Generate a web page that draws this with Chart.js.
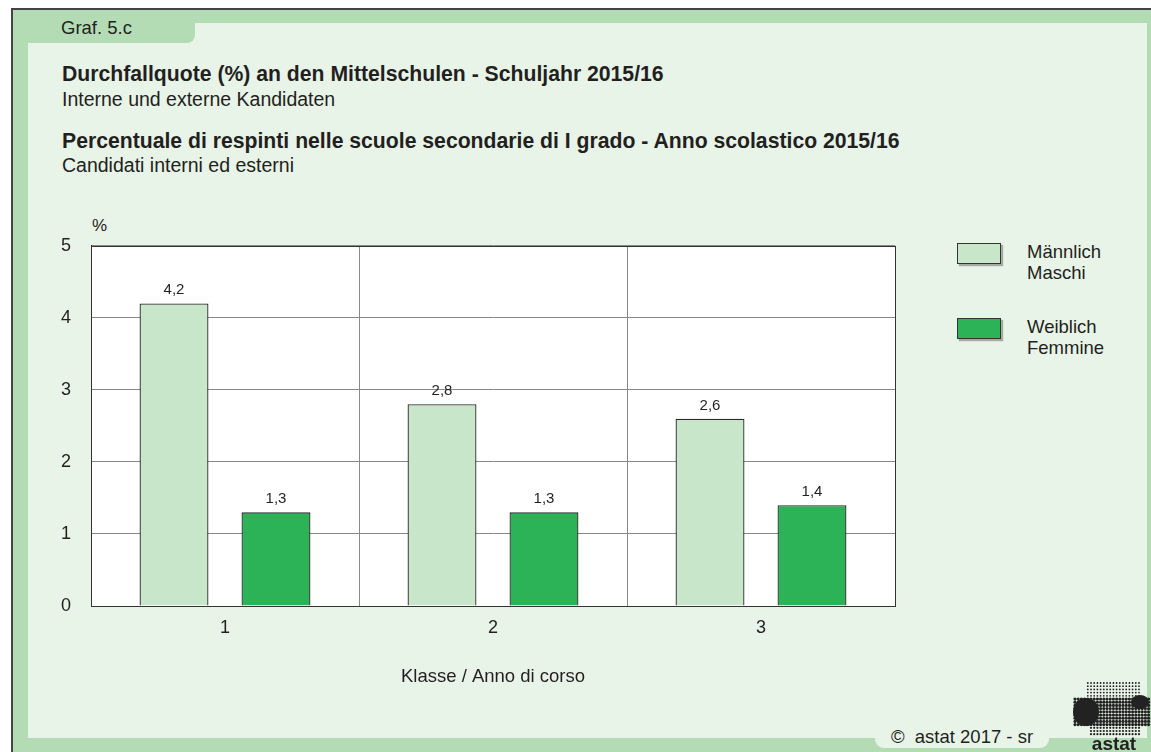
<!DOCTYPE html>
<html>
<head>
<meta charset="utf-8">
<script src="https://cdn.jsdelivr.net/npm/chart.js@4.4.0/dist/chart.umd.min.js"></script>
<style>
body { margin: 0; background: #fff; font-family: "Liberation Sans", Arial, sans-serif; color: #231f20; }
#frame { position: absolute; left: 11px; top: 8px; width: 1140px; height: 744px; background: #b3dcb5; border-top: 2px solid #444; border-left: 2px solid #444; box-sizing: border-box; }
#inner { position: absolute; left: 28px; top: 23px; width: 1119px; height: 715px; background: #e8f4e8; }
#tab { position: absolute; left: 13px; top: 10px; width: 182px; height: 33px; background: #b3dcb5; border-bottom-right-radius: 8px; }
#tab span { position: absolute; left: 48px; top: 7px; font-size: 18.5px; }
.t { position: absolute; left: 62px; font-size: 19.5px; white-space: nowrap; }
.b { font-weight: bold; font-size: 21.2px; }
#wrap { position: absolute; left: 40px; top: 215px; width: 870px; height: 490px; }
#legend { position: absolute; left: 957px; top: 243px; }
.li { position: relative; height: 75px; }
.sw { position: absolute; left: 0; top: 0; width: 42px; height: 19px; border: 1px solid #333; box-shadow: 2px 2px 1px rgba(0,0,0,0.3); }
.lt { position: absolute; left: 70px; top: -2px; font-size: 18.5px; line-height: 21px; }
#copy { position: absolute; left: 875px; top: 725px; width: 174px; height: 23px; background: #e8f4e8; border-radius: 0 0 9px 9px; font-size: 18.5px; text-align: center; line-height: 23px; }
#logo { position: absolute; left: 1070px; top: 680px; }
</style>
</head>
<body>
<div id="frame"></div>
<div id="inner"></div>
<div id="tab"><span>Graf. 5.c</span></div>
<div class="t b" style="top:62px">Durchfallquote (%) an den Mittelschulen - Schuljahr 2015/16</div>
<div class="t" style="top:88px">Interne und externe Kandidaten</div>
<div class="t b" style="top:129px">Percentuale di respinti nelle scuole secondarie di I grado - Anno scolastico 2015/16</div>
<div class="t" style="top:154px">Candidati interni ed esterni</div>
<div class="t" style="left:92px;top:216px;font-size:17px">%</div>
<div id="wrap"><canvas id="c"></canvas></div>
<div id="legend"></div>
<div id="copy">©&nbsp; astat 2017 - sr</div>
<canvas id="logo" width="81" height="72"></canvas>
<script>
const categories = ["1", "2", "3"];
const seriesNames = [["Männlich", "Maschi"], ["Weiblich", "Femmine"]];
const maleValues = [4.2, 2.8, 2.6];
const femaleValues = [1.3, 1.3, 1.4];
const seriesColors = ["#c8e6c9", "#2db357"];
const yTicks = [0, 1, 2, 3, 4, 5];
const xTitle = "Klasse / Anno di corso";

const fontFam = '"Liberation Sans", Arial, sans-serif';

// legend on the right
const leg = document.getElementById('legend');
seriesNames.forEach((n, i) => {
    const d = document.createElement('div');
    d.className = 'li';
    d.innerHTML = `<div class="sw" style="background:${seriesColors[i]}"></div><div class="lt">${n[0]}<br>${n[1]}</div>`;
    leg.appendChild(d);
});

const plotBox = {
    id: 'plotBox',
    beforeDraw(chart) {
        const a = chart.chartArea, ctx = chart.ctx;
        ctx.save(); ctx.fillStyle = '#fff';
        ctx.fillRect(a.left, a.top, a.right - a.left, a.bottom - a.top);
        ctx.restore();
    },
    afterDraw(chart) {
        const a = chart.chartArea, ctx = chart.ctx;
        ctx.save(); ctx.strokeStyle = '#333'; ctx.lineWidth = 1;
        ctx.strokeRect(Math.round(a.left) + 0.5, Math.round(a.top) + 0.5, Math.round(a.right - a.left), Math.round(a.bottom - a.top));
        // value labels
        ctx.fillStyle = '#231f20'; ctx.font = '15px ' + fontFam;
        ctx.textAlign = 'center'; ctx.textBaseline = 'alphabetic';
        chart.data.datasets.forEach((ds, i) => {
            chart.getDatasetMeta(i).data.forEach((bar, j) => {
                ctx.fillText(ds.data[j].toFixed(1).replace('.', ','), bar.x, bar.y - 9);
            });
        });
        ctx.restore();
    }
};

new Chart(document.getElementById('c'), {
    type: 'bar',
    data: {
        labels: categories,
        datasets: [
            { label: seriesNames[0].join(' '), data: maleValues, backgroundColor: seriesColors[0], borderColor: '#2a2a2a', borderWidth: 1.3 },
            { label: seriesNames[1].join(' '), data: femaleValues, backgroundColor: seriesColors[1], borderColor: '#2a2a2a', borderWidth: 1.3 }
        ]
    },
    options: {
        responsive: true, maintainAspectRatio: false, animation: false,
        categoryPercentage: 0.761, barPercentage: 0.676,
        layout: { padding: { top: 28, right: 15, left: 0, bottom: 0 } },
        plugins: { legend: { display: false }, tooltip: { enabled: false } },
        scales: {
            x: {
                grid: { color: '#888', drawTicks: false },
                border: { color: '#333' },
                ticks: { color: '#231f20', font: { size: 18, family: fontFam }, padding: 11 },
                title: { display: true, text: xTitle, color: '#231f20', font: { size: 18.5, family: fontFam }, padding: { top: 0, bottom: 17 } },
                afterFit: s => { s.height = 99; }
            },
            y: {
                min: 0, max: 5,
                afterBuildTicks: s => { s.ticks = yTicks.map(v => ({ value: v })); },
                grid: { color: '#888', drawTicks: false },
                border: { color: '#333' },
                ticks: { color: '#231f20', font: { size: 18, family: fontFam }, padding: 20 },
                afterFit: s => { s.width = 51; }
            }
        }
    },
    plugins: [plotBox]
});

// astat logo: dotted map with wordmark
(function () {
    const c = document.getElementById('logo').getContext('2d');
    c.fillStyle = '#222';
    for (let y = 3; y < 57; y += 3.2) {
        for (let x = 5; x < 80; x += 3.2) {
            let r = 0;
            if (y < 16 && x > 17 && x < 71) r = 0.9;
            else if (y >= 16 && y < 46 && x > 3 && x < 79) r = 1.6;
            else if (y >= 46 && x > 20 && x < 70) r = 1.1;
            if (!r) continue;
            c.beginPath(); c.arc(x, y, r, 0, Math.PI * 2); c.fill();
        }
    }
    c.beginPath(); c.ellipse(16, 32, 13, 14, 0, 0, Math.PI * 2); c.fill();
    c.beginPath(); c.ellipse(70, 22, 9, 7, 0, 0, Math.PI * 2); c.fill();
    c.font = 'bold 19px ' + fontFam; c.textAlign = 'center'; c.textBaseline = 'bottom';
    c.fillText('astat', 44, 74);
})();
</script>
</body>
</html>
